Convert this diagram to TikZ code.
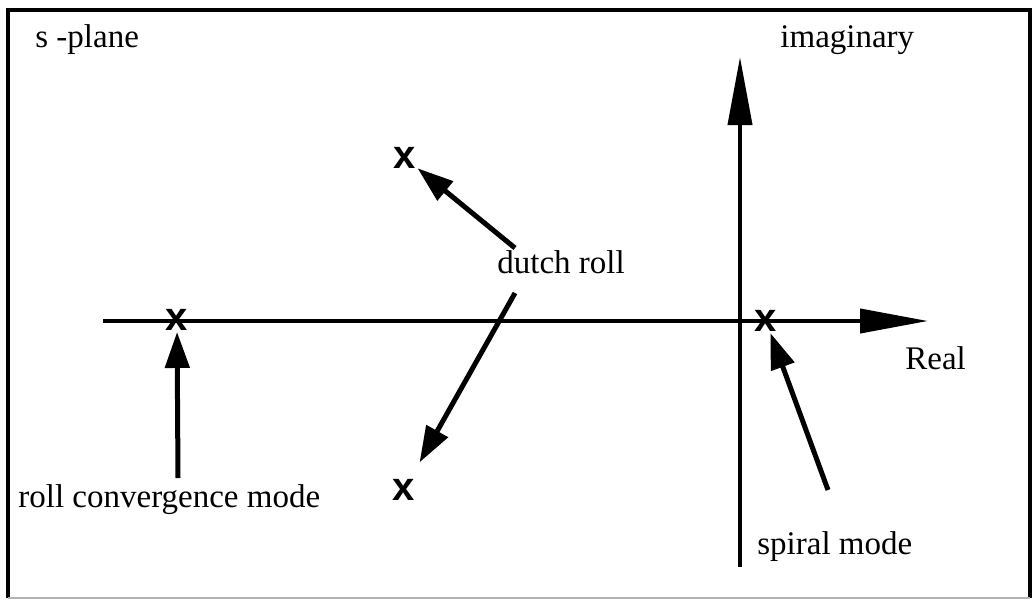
\documentclass[tikz,border=0pt]{standalone}
\usepackage{fontspec}
\setmainfont{Liberation Serif}
\newfontfamily\polefont{Liberation Sans}
\usetikzlibrary{arrows.meta}

\begin{document}
\begin{tikzpicture}[x=0.5pt, y=-0.5pt,
  lbl/.style={font=\fontsize{16.5}{18}\selectfont, inner sep=0pt},
  pole/.style={font=\polefont\bfseries\fontsize{20}{20}\selectfont, inner sep=0.5pt},
  axis/.style={line width=2pt, -{Triangle[length=34pt, width=12pt]}},
  ptr/.style={line width=2.5pt, -{Triangle[length=18pt, width=12pt]}},
]
  \useasboundingbox (0,0) rectangle (1034,606);

  % frame
  \draw[line width=2pt] (8,598) -- (8,10) -- (1030,10) -- (1030,598);
  \draw[line width=1pt, gray!60] (8,598) -- (1030,598);

  % axes
  \coordinate (reL) at (103,321);
  \coordinate (reR) at (928,321);
  \coordinate (imB) at (740,567);
  \coordinate (imT) at (740,57);
  \draw[axis] (reL) -- (reR);
  \draw[axis] (imB) -- (imT);

  \node[lbl, anchor=west] (sPlane) at (35,40) {s -plane};
  \node[lbl, anchor=west] (imLbl) at (780,40) {imaginary};
  \node[lbl, anchor=west] (reLbl) at (905,358) {Real};

  % poles
  \node[pole] (pRoll) at (177,320) {x};
  \node[pole] (pDU) at (405,158) {x};
  \node[pole] (pDL) at (404,490) {x};
  \node[pole] (pSp) at (766,321) {x};

  % labels
  \node[lbl, anchor=west] (rollLbl) at (18,500) {roll convergence mode};
  \node[lbl, anchor=west] (dutchLbl) at (497,262) {dutch roll};
  \node[lbl, anchor=west] (spLbl) at (757,547) {spiral mode};

  % pointers
  \coordinate (tRoll) at (178,478);
  \coordinate (tDU) at (515,248);
  \coordinate (tDL) at (515,293);
  \coordinate (tSp) at (828,490);
  \draw[ptr] (tRoll) -- (pRoll);
  \draw[ptr] (tDU) -- (pDU);
  \draw[ptr, shorten >=9pt] (tDL) -- (pDL);
  \draw[ptr] (tSp) -- (pSp);
\end{tikzpicture}
\end{document}
